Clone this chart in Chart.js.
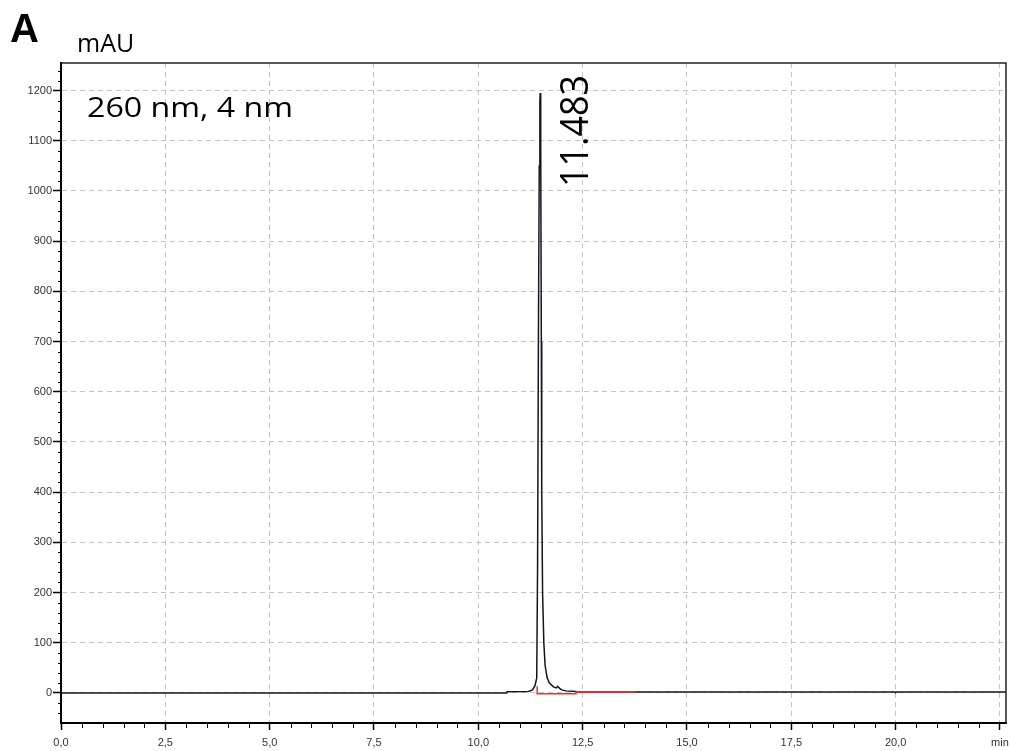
<!DOCTYPE html>
<html>
<head>
<meta charset="utf-8">
<script src="https://cdn.jsdelivr.net/npm/chart.js@4/dist/chart.umd.min.js"></script>
<style>
    html, body { margin: 0; padding: 0; background: #fff; }
    canvas { display: block; }
</style>
</head>
<body>
<canvas id="chromatogram" width="1010" height="751"></canvas>
<script>
// Chromatogram trace (retention time in min, absorbance in mAU)
const traceTimes = [0, 10.68, 10.69, 11.20, 11.30, 11.36, 11.40, 11.42, 11.44, 11.46, 11.475, 11.483,
    11.49, 11.50, 11.51, 11.52, 11.54, 11.57, 11.60, 11.65, 11.70, 11.80, 11.87, 11.90, 11.95,
    12.00, 12.10, 12.34, 12.35, 19.98, 20.00, 20.02, 22.65];
const traceMAU = [0, 0, 2.5, 3, 6, 15, 30, 250, 700, 1050, 1180, 1195,
    1190, 1100, 700, 400, 200, 100, 55, 30, 20, 12, 10, 13, 9,
    6, 4, 3, 2, 2, 0.5, 2, 2];

// Integration baseline (red)
const baselineTimes = [11.41, 11.41, 12.34, 12.34, 13.75];
const baselineMAU = [13, -1.5, -1.5, 2, 2];

// Axis ticks
const xTickValues = [0, 2.5, 5, 7.5, 10, 12.5, 15, 17.5, 20, 22.5];
const xTickLabels = ['0,0', '2,5', '5,0', '7,5', '10,0', '12,5', '15,0', '17,5', '20,0', 'min'];
const yTickValues = [0, 100, 200, 300, 400, 500, 600, 700, 800, 900, 1000, 1100, 1200];

const peakLabel = '11.483';
const peakTime = 11.483;
const signalLabel = '260 nm, 4 nm';

const toPoints = (xs, ys) => xs.map((x, i) => ({ x: x, y: ys[i] }));

/**
 * Frame, minor ticks and text annotations
 */
const decorPlugin = {
    id: 'decor',
    afterDraw(chart) {
        const { ctx, chartArea, scales } = chart;
        const xs = scales.x;
        const ys = scales.y;
        ctx.save();

        // top / right frame
        ctx.strokeStyle = '#222';
        ctx.lineWidth = 1.5;
        ctx.beginPath();
        ctx.moveTo(chartArea.left, chartArea.top);
        ctx.lineTo(chartArea.right, chartArea.top);
        ctx.lineTo(chartArea.right, chartArea.bottom);
        ctx.stroke();

        // minor ticks
        ctx.strokeStyle = '#000';
        ctx.lineWidth = 1;
        ctx.beginPath();
        for (let v = 0.5; v < xs.max; v += 0.5) {
            if (Math.abs(v / 2.5 - Math.round(v / 2.5)) < 1e-6) continue;
            const px = Math.round(xs.getPixelForValue(v)) + 0.5;
            ctx.moveTo(px, chartArea.bottom + 1);
            ctx.lineTo(px, chartArea.bottom + 5);
        }
        for (let v = -40; v < ys.max; v += 20) {
            if (v % 100 === 0) continue;
            const py = Math.round(ys.getPixelForValue(v)) + 0.5;
            ctx.moveTo(chartArea.left - 3, py);
            ctx.lineTo(chartArea.left + 1, py);
        }
        ctx.stroke();

        ctx.fillStyle = '#000';
        ctx.textBaseline = 'alphabetic';

        // panel letter and unit
        ctx.font = 'bold 40px "Liberation Sans", Arial, sans-serif';
        ctx.fillText('A', 10, 42);
        ctx.font = '25px "Open Sans", sans-serif';
        ctx.fillText('mAU', 77, 52);

        // wavelength label, fitted to its box
        ctx.font = '500 28px "Open Sans", sans-serif';
        let w = ctx.measureText(signalLabel).width;
        ctx.save();
        ctx.translate(87, 117);
        ctx.scale(206 / w, 1);
        ctx.fillText(signalLabel, 0, 0);
        ctx.restore();

        // retention time of the peak, rotated
        ctx.font = '39px "Open Sans", sans-serif';
        w = ctx.measureText(peakLabel).width;
        ctx.save();
        ctx.translate(xs.getPixelForValue(peakTime) + 48, 187);
        ctx.rotate(-Math.PI / 2);
        ctx.scale(112 / w, 1);
        ctx.fillText(peakLabel, 0, 0);
        ctx.restore();

        ctx.restore();
    }
};

const gridStyle = {
    color: '#c4c4c4',
    lineWidth: 1,
    tickColor: '#000',
    tickWidth: 1.5
};

new Chart(document.getElementById('chromatogram'), {
    type: 'line',
    data: {
        datasets: [
            {
                label: 'baseline',
                data: toPoints(baselineTimes, baselineMAU),
                borderColor: '#ff2a2a',
                borderWidth: 1.5,
                pointRadius: 0,
                tension: 0
            },
            {
                label: 'signal',
                data: toPoints(traceTimes, traceMAU),
                borderColor: '#16141f',
                borderWidth: 1.5,
                pointRadius: 0,
                tension: 0
            }
        ]
    },
    options: {
        responsive: false,
        animation: false,
        devicePixelRatio: 1,
        layout: { padding: { top: 63, right: 4, left: 0, bottom: 0 } },
        plugins: {
            legend: { display: false },
            tooltip: { enabled: false }
        },
        scales: {
            x: {
                type: 'linear',
                min: 0,
                max: 22.645,
                afterBuildTicks: (scale) => { scale.ticks = xTickValues.map(v => ({ value: v })); },
                afterFit: (scale) => {
                    scale.height = 28;
                    scale.paddingLeft = 0;
                    scale.paddingRight = 0;
                },
                grid: Object.assign({ tickLength: 7 }, gridStyle),
                border: { color: '#000', width: 2, dash: [5, 4] },
                ticks: {
                    autoSkip: false,
                    maxRotation: 0,
                    padding: 6,
                    color: '#333',
                    font: { family: '"Liberation Sans", Arial, sans-serif', size: 11 },
                    callback: (value, index) => xTickLabels[index]
                }
            },
            y: {
                type: 'linear',
                min: -60,
                max: 1255,
                afterBuildTicks: (scale) => { scale.ticks = yTickValues.map(v => ({ value: v })); },
                afterFit: (scale) => { scale.width = 61; },
                grid: Object.assign({ tickLength: 8 }, gridStyle),
                border: { color: '#000', width: 2, dash: [5, 4] },
                ticks: {
                    autoSkip: false,
                    padding: 1,
                    color: '#333',
                    font: { family: '"Liberation Sans", Arial, sans-serif', size: 11 },
                    callback: (value) => String(value)
                }
            }
        }
    },
    plugins: [decorPlugin]
});
</script>
</body>
</html>
